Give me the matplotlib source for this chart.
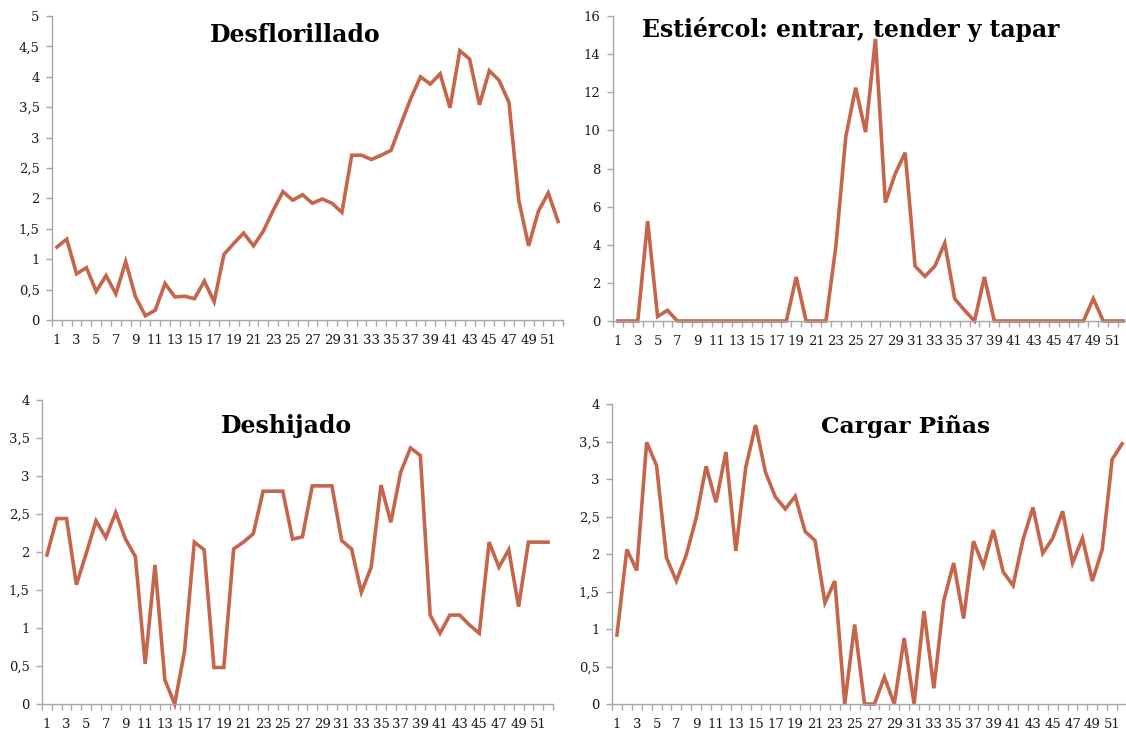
import matplotlib
matplotlib.use("Agg")
import matplotlib.pyplot as plt
import numpy as np

weeks = list(range(1, 53))

desflorillado = [1.20, 1.33, 0.76, 0.86, 0.47, 0.73, 0.43, 0.96, 0.38, 0.07,
                 0.16, 0.60, 0.38, 0.39, 0.35, 0.64, 0.30, 1.08, 1.26, 1.43,
                 1.22, 1.46, 1.80, 2.11, 1.97, 2.06, 1.92, 1.99, 1.92, 1.77,
                 2.71, 2.71, 2.64, 2.71, 2.79, 3.22, 3.64, 4.00, 3.88, 4.05,
                 3.49, 4.43, 4.29, 3.54, 4.10, 3.94, 3.58, 1.97, 1.22, 1.79,
                 2.09, 1.62]

estiercol = [0, 0, 0, 5.24, 0.24, 0.56, 0, 0, 0, 0,
             0, 0, 0, 0, 0, 0, 0, 0, 2.31, 0,
             0, 0, 3.9, 9.65, 12.24, 9.91, 14.8, 6.21, 7.73, 8.83,
             2.88, 2.34, 2.88, 4.09, 1.17, 0.56, 0, 2.31, 0, 0,
             0, 0, 0, 0, 0, 0, 0, 0, 1.17, 0,
             0, 0]

deshijado = [1.96, 2.44, 2.44, 1.57, 1.98, 2.41, 2.19, 2.52, 2.17, 1.94,
             0.53, 1.83, 0.32, 0.0, 0.69, 2.13, 2.03, 0.48, 0.48, 2.04,
             2.13, 2.24, 2.80, 2.80, 2.80, 2.17, 2.20, 2.87, 2.87, 2.87,
             2.15, 2.04, 1.47, 1.80, 2.88, 2.39, 3.05, 3.37, 3.27, 1.17,
             0.93, 1.17, 1.17, 1.04, 0.93, 2.13, 1.80, 2.03, 1.28, 2.13,
             2.13, 2.13]

cargar_pinas = [0.92, 2.06, 1.78, 3.49, 3.18, 1.95, 1.64, 1.99, 2.48, 3.17,
                2.69, 3.36, 2.04, 3.15, 3.72, 3.09, 2.76, 2.60, 2.77, 2.30,
                2.18, 1.35, 1.64, 0.0, 1.06, 0.0, 0.0, 0.36, 0.0, 0.88,
                0.0, 1.24, 0.21, 1.38, 1.88, 1.14, 2.17, 1.84, 2.32, 1.76,
                1.58, 2.19, 2.62, 2.01, 2.21, 2.57, 1.88, 2.21, 1.64, 2.06,
                3.26, 3.47]

titles = ["Desflorillado", "Estiércol: entrar, tender y tapar", "Deshijado", "Cargar Piñas"]
series = [desflorillado, estiercol, deshijado, cargar_pinas]
y_ticks = [np.arange(0, 5.01, 0.5), np.arange(0, 16.01, 2),
           np.arange(0, 4.01, 0.5), np.arange(0, 4.01, 0.5)]

W, H = 1126, 731
fig = plt.figure(figsize=(W / 100, H / 100), dpi=100)
fig.patch.set_facecolor("white")

# axes boxes in pixels: left, right, top, bottom
boxes = [(52, 563, 16, 320), (613, 1128, 16, 321),
         (42, 553, 400, 704), (612, 1127, 404, 704)]
# title: center x, baseline y, target width
title_pos = [(295.5, 42, 171), (851, 37, 418), (287, 433, 131), (906, 433, 169)]

LINE = "#C5654B"
AX = "#A6A6A6"
FONT = "DejaVu Serif"


def fmt(v):
    s = ("%g" % round(v, 2))
    return s.replace(".", ",")


renderer = fig.canvas.get_renderer()

for (l, r, t, b), data, yt, title, (tx, ty, tw) in zip(boxes, series, y_ticks, titles, title_pos):
    ax = fig.add_axes([l / W, 1 - b / H, (r - l) / W, (b - t) / H])
    ax.plot(weeks, data, color=LINE, lw=2.6, solid_joinstyle="miter", clip_on=False)
    ax.set_xlim(0.5, 52.5)
    ax.set_ylim(yt[0], yt[-1])
    for s in ["top", "right"]:
        ax.spines[s].set_visible(False)
    for s in ["left", "bottom"]:
        ax.spines[s].set_color(AX)
        ax.spines[s].set_linewidth(1.0)
    ax.set_yticks(yt)
    ax.set_yticklabels([fmt(v) for v in yt], fontfamily=FONT, fontsize=9.5, color="#1a1a1a")
    ax.set_xticks(np.arange(0.5, 53, 1.0))
    ax.set_xticklabels([])
    ax.set_xticks(np.arange(1, 52, 2), minor=True)
    ax.set_xticklabels([str(v) for v in range(1, 52, 2)], minor=True,
                       fontfamily=FONT, fontsize=9.5, color="#1a1a1a")
    ax.tick_params(axis="x", which="major", direction="out", length=4, color=AX, width=1)
    ax.tick_params(axis="x", which="minor", length=0, pad=10)
    ax.tick_params(axis="y", direction="out", length=4, color=AX, width=1, pad=5)
    ax.set_facecolor("none")

    txt = fig.text(tx / W, 1 - ty / H, title, ha="center", va="baseline",
                   fontfamily=FONT, fontweight="bold", fontsize=17, color="black")
    wpx = txt.get_window_extent(renderer=renderer).width
    txt.set_fontsize(17 * tw / wpx)

fig.savefig("out.png", dpi=100, facecolor="white")
